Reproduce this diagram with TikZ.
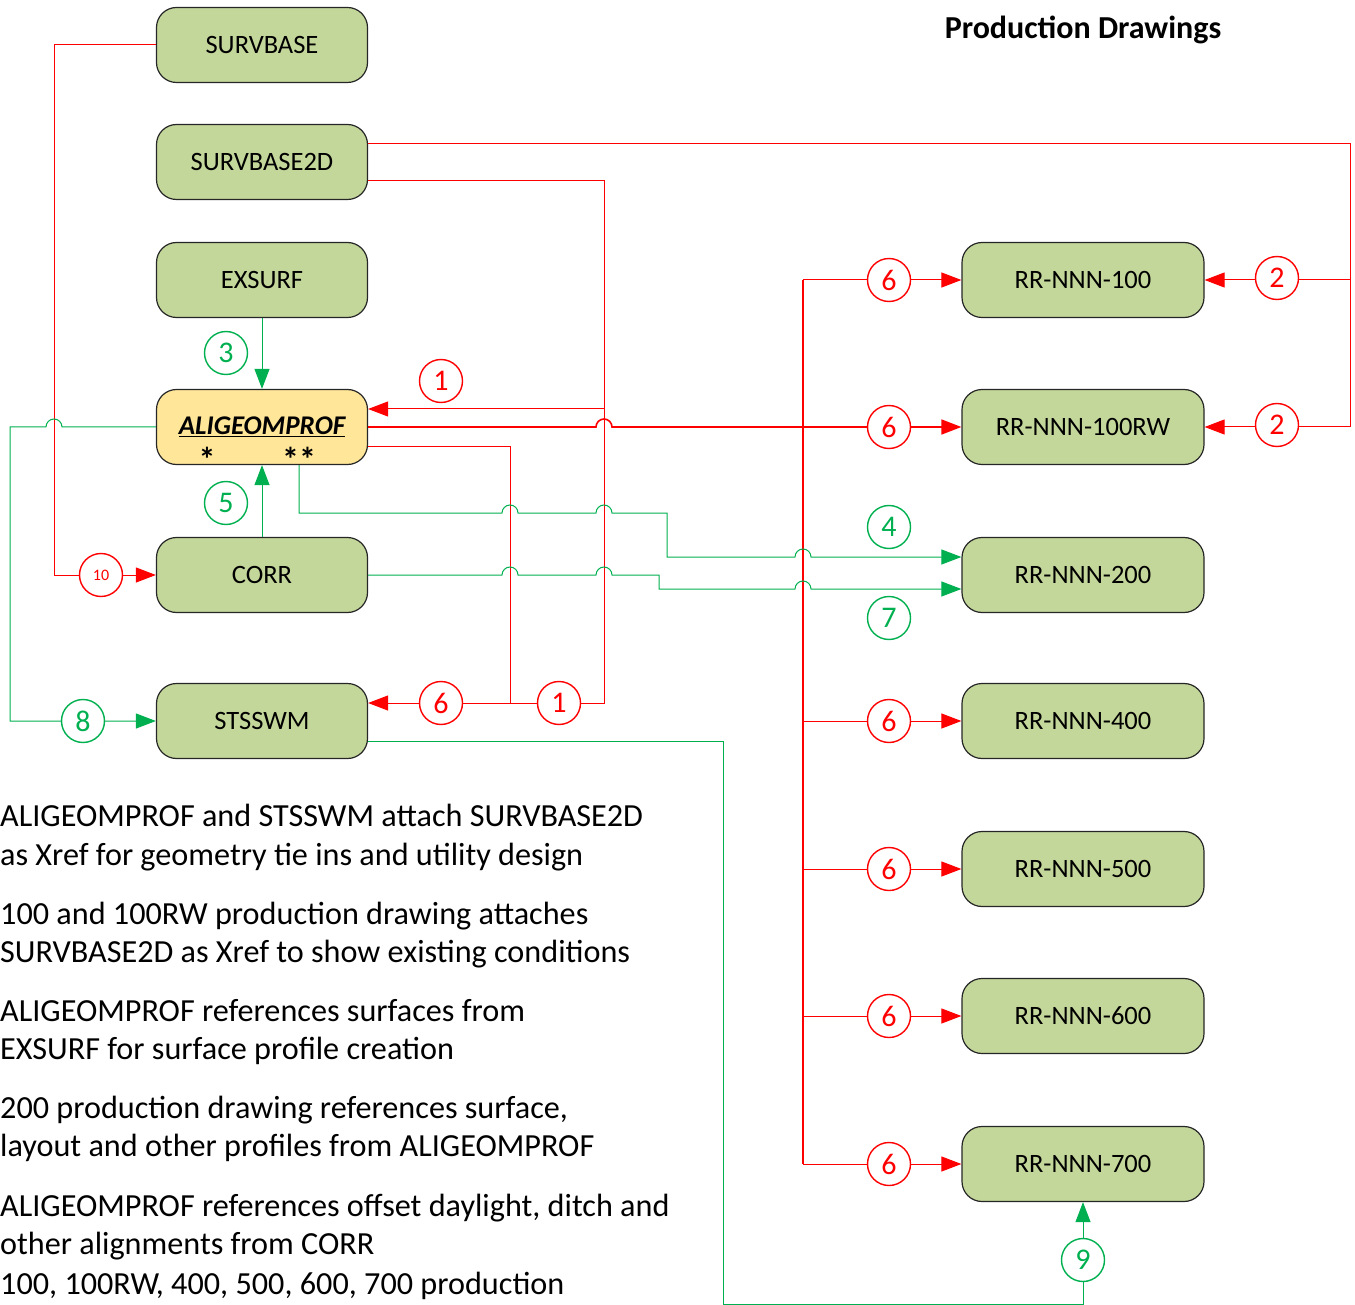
\documentclass[tikz,border=0pt]{standalone}
\usepackage{fontspec}
\setmainfont{Carlito}
\usetikzlibrary{arrows.meta}
\definecolor{boxgreen}{HTML}{C4D79B}
\definecolor{boxyellow}{HTML}{FFE699}
\definecolor{lred}{HTML}{FF0000}
\definecolor{lgreen}{HTML}{00B050}
\begin{document}
\begin{tikzpicture}[x=1pt,y=-1pt,
 box/.style={draw=black!85, line width=1.2pt, rounded corners=20pt, fill=boxgreen, minimum height=75pt, font=\fontsize{26.5}{30}\selectfont, inner sep=0pt},
 lbox/.style={box, minimum width=211pt},
 rbox/.style={box, minimum width=242pt},
 rl/.style={draw=lred, line width=1pt},
 gl/.style={draw=lgreen, line width=1pt},
 tip/.style={-{Triangle[length=20pt,width=15pt]}},
 rtip/.style={{Triangle[length=20pt,width=15pt]}-},
 rnum/.style={circle, draw=lred, line width=1.4pt, fill=white, text=lred, minimum size=43pt, inner sep=0pt, font=\fontsize{30}{32}\selectfont},
 gnum/.style={rnum, draw=lgreen, text=lgreen},
 ast/.style={font=\bfseries\fontsize{34}{36}\selectfont, inner sep=0pt},
 body/.style={font=\fontsize{32.2}{38}\selectfont, anchor=base west, inner sep=0pt}
]
\useasboundingbox (0,0) rectangle (1355,1305);

% title
\node[font=\bfseries\fontsize{32}{34}\selectfont] (title) at (1083,30) {Production Drawings};

% left boxes
\node[lbox] (sb) at (262,45) {SURVBASE};
\node[lbox] (sb2d) at (262,162) {SURVBASE2D};
\node[lbox] (ex) at (262,280) {EXSURF};
\node[lbox, fill=boxyellow, font=\fontsize{27}{30}\selectfont] (ali) at (262,427) {\bfseries\itshape\underline{ALIGEOMPROF}};
\node[lbox] (corr) at (262,575) {CORR};
\node[lbox] (sts) at (262,721) {STSSWM};
\node[ast] (ast1) at (207,459) {*};
\node[ast] (ast2) at (299,459) {**};

% right boxes
\node[rbox] (r100) at (1083,280) {RR-NNN-100};
\node[rbox] (r100rw) at (1083,427) {RR-NNN-100RW};
\node[rbox] (r200) at (1083,575) {RR-NNN-200};
\node[rbox] (r400) at (1083,721) {RR-NNN-400};
\node[rbox] (r500) at (1083,869) {RR-NNN-500};
\node[rbox] (r600) at (1083,1016) {RR-NNN-600};
\node[rbox] (r700) at (1083,1164) {RR-NNN-700};

% ---- red connectors
\draw[rl, tip] (sb.west) -- (54,45) -- (54,575) -- (corr.west);
\draw[rl, tip] ([yshift=18pt]sb2d.east) -- (1350,144) -- (1350,427) -- (r100rw.east);
\draw[rl, tip] (1350,280) -- (r100.east);
\draw[rl, tip] ([yshift=-19pt]sb2d.east) -- (604,181) -- (604,703) -- ([yshift=18pt]sts.east);
\draw[rl, tip] (604,409) -- ([yshift=18pt]ali.east);
\draw[rl] ([yshift=-20pt]ali.east) -- (510,447) -- (510,703);
\draw[rl, line width=1.6pt, tip] (ali.east) -- (596,427) arc[start angle=180,end angle=360,radius=8] -- (r100rw.west);
\draw[rl, line width=1.3pt] (803,280) -- (803,1164);
\foreach \n/\y in {r100/280, r400/721, r500/869, r600/1016, r700/1164}
  \draw[rl, tip] (803,\y) -- (\n.west);

% ---- green connectors
\draw[gl, tip] (ex.south) -- (ali.north);
\draw[gl, tip] (corr.north) -- (ali.south);
\draw[gl, rtip] (sts.west) -- (10,721) -- (10,427) -- (46,427) arc[start angle=180,end angle=360,radius=8] -- (ali.west);
\draw[gl, tip] ([xshift=37pt]ali.south) -- (299,513) -- (502,513) arc[start angle=180,end angle=360,radius=8]
   -- (596,513) arc[start angle=180,end angle=360,radius=8] -- (667,513) -- (667,557)
   -- (795,557) arc[start angle=180,end angle=360,radius=8] -- ([yshift=18pt]r200.west);
\draw[gl, tip] (corr.east) -- (502,575) arc[start angle=180,end angle=360,radius=8]
   -- (596,575) arc[start angle=180,end angle=360,radius=8] -- (659,575) -- (659,589)
   -- (795,589) arc[start angle=180,end angle=360,radius=8] -- ([yshift=-14pt]r200.west);
\draw[gl, tip] ([yshift=-20pt]sts.east) -- (723,741) -- (723,1304) -- (1083,1304) -- (r700.south);

% ---- number circles
\node[rnum, font=\fontsize{16}{18}\selectfont] (n10) at (101,575) {10};
\node[rnum] (n2a) at (1277,278) {2};
\node[rnum] (n2b) at (1277,425) {2};
\node[rnum] (n1a) at (441,381) {1};
\node[rnum] (n1b) at (559,703) {1};
\node[rnum] (n6s) at (441,703) {6};
\foreach \y in {280,427,721,869,1016,1164}
  \node[rnum] (n6r\y) at (889,\y) {6};
\node[gnum] (n3) at (226,353) {3};
\node[gnum] (n5) at (226,503) {5};
\node[gnum] (n8) at (83,721) {8};
\node[gnum] (n4) at (889,527) {4};
\node[gnum] (n7) at (889,618) {7};
\node[gnum] (n9) at (1083,1260) {9};

% ---- notes
\node[body] (t1) at (0,826) {ALIGEOMPROF and STSSWM attach SURVBASE2D};
\node[body] (t2) at (0,865) {as Xref for geometry tie ins and utility design};
\node[body] (t3) at (0,924) {100 and 100RW production drawing attaches};
\node[body] (t4) at (0,962) {SURVBASE2D as Xref to show existing conditions};
\node[body] (t5) at (0,1021) {ALIGEOMPROF references surfaces from};
\node[body] (t6) at (0,1059) {EXSURF for surface profile creation};
\node[body] (t7) at (0,1118) {200 production drawing references surface,};
\node[body] (t8) at (0,1156) {layout and other profiles from ALIGEOMPROF};
\node[body] (t9) at (0,1216) {ALIGEOMPROF references offset daylight, ditch and};
\node[body] (t10) at (0,1254) {other alignments from CORR};
\node[body] (t11) at (0,1294) {100, 100RW, 400, 500, 600, 700 production};
\end{tikzpicture}
\end{document}
